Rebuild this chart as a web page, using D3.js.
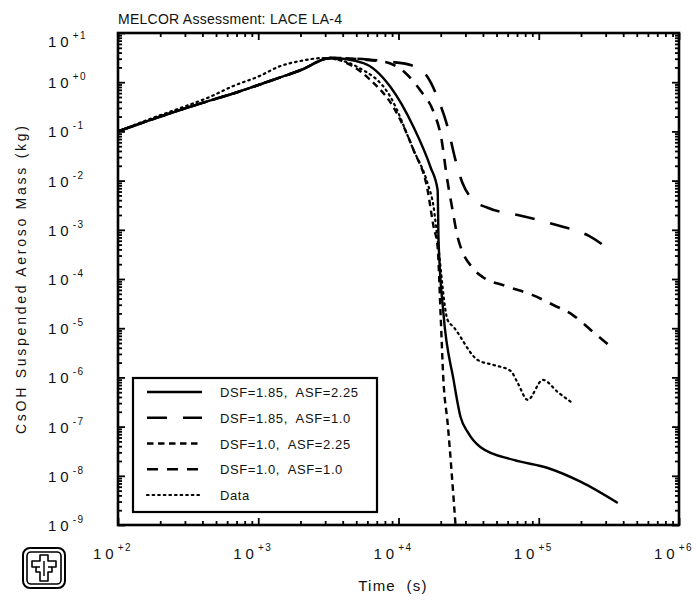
<!DOCTYPE html>
<html>
<head>
<meta charset="utf-8">
<script src="https://cdn.jsdelivr.net/npm/d3@7"></script>
<style>
  html, body { margin: 0; padding: 0; background: #fff; }
  text { font-family: "Liberation Sans", Arial, sans-serif; fill: #111; }
</style>
</head>
<body>
<svg id="chart" width="696" height="602"></svg>
<script>
// ---- text ----
const titleText = "MELCOR Assessment: LACE LA-4";
const xTitle = "Time (s)";
const yTitle = "CsOH Suspended Aeroso Mass (kg)";

// ---- axis decades and tick labels ----
const xDecades = [2, 3, 4, 5, 6];
const xTickLabels = ["+2", "+3", "+4", "+5", "+6"];
const yDecades = [1, 0, -1, -2, -3, -4, -5, -6, -7, -8, -9];
const yTickLabels = ["+1", "+0", "-1", "-2", "-3", "-4", "-5", "-6", "-7", "-8", "-9"];

// ---- series (time in s, mass in kg) ----
const seriesNames = ["DSF=1.85,  ASF=2.25", "DSF=1.85,  ASF=1.0", "DSF=1.0,  ASF=2.25", "DSF=1.0,  ASF=1.0", "Data"];

// common heat-up portion shared by all calculations
const riseTime = [100, 200, 400, 700, 1200, 2000, 3270];
const riseMass = [0.1, 0.2, 0.38, 0.62, 1.05, 1.75, 3.1];

const s1Time = [5620, 8770, 12800, 16900, 19000, 19300, 20900, 24700, 27700, 31100, 38500, 66200, 116000, 200000, 366000];
const s1Mass = [2.45, 0.8, 0.123, 0.0189, 0.0065, 6.2e-4, 2.04e-5, 8.9e-7, 1.57e-7, 7.8e-8, 3.8e-8, 2.1e-8, 1.44e-8, 7.5e-9, 2.8e-9];

const s2Time = [6000, 9060, 12200, 14400, 16100, 19300, 22400, 25500, 28600, 34300, 43200, 70800, 128000, 228000, 343000];
const s2Mass = [2.9, 2.57, 2.24, 1.77, 1.28, 0.43, 0.123, 0.026, 0.0089, 0.0040, 0.0028, 0.0020, 0.0013, 7.5e-4, 3.4e-4];

const s3Time = [4540, 6310, 9210, 12800, 16100, 17800, 19000, 19950, 20900, 22400, 25500];
const s3Mass = [2.24, 1.11, 0.31, 0.042, 0.0065, 0.00114, 4.5e-4, 2.0e-5, 8.9e-7, 1.18e-7, 1.0e-9];

const s4Time = [5500, 8070, 11200, 14600, 17800, 20300, 22000, 24300, 26400, 27700, 33800, 39800, 58100, 90600, 126000, 175000, 235000, 327000];
const s4Mass = [2.9, 2.57, 1.54, 0.63, 0.248, 0.067, 0.013, 0.0025, 7.1e-4, 4.5e-4, 1.67e-4, 1.1e-4, 7.2e-5, 4.7e-5, 3.0e-5, 1.85e-5, 9.2e-6, 4.2e-6];

const dataTime = [100, 170, 280, 450, 665, 1000, 1440, 2000, 2900, 3600, 5100, 8770, 12800, 16100, 17800, 19000, 22400, 24700, 36700, 47700, 63100, 70800, 83400, 107000, 137000, 169000];
const dataMass = [0.1, 0.18, 0.3, 0.5, 0.84, 1.3, 2.13, 2.7, 3.1, 2.9, 2.04, 0.5, 0.042, 0.0089, 0.0029, 6.2e-4, 1.47e-5, 1.06e-5, 2.26e-6, 1.79e-6, 1.35e-6, 7.7e-7, 3.5e-7, 8.9e-7, 5.0e-7, 3.2e-7];

// ---- layout ----
const svg = d3.select("#chart");
const plot = { left: 118, top: 33, right: 679, bottom: 525 };

const x = d3.scaleLog().domain([1e2, 1e6]).range([plot.left, plot.right]);
const y = d3.scaleLog().domain([1e-9, 1e1]).range([plot.bottom, plot.top]);

const join = (t, m) => riseTime.map((v, i) => [v, riseMass[i]]).concat(t.map((v, i) => [v, m[i]]));
const series = [
  { pts: join(s1Time, s1Mass), dash: null, width: 2.4 },
  { pts: join(s2Time, s2Mass), dash: "20,16", width: 2.6 },
  { pts: join(s3Time, s3Mass), dash: "6.5,4.5", width: 2.4 },
  { pts: join(s4Time, s4Mass), dash: "11,9", width: 2.6 },
  { pts: dataTime.map((v, i) => [v, dataMass[i]]), dash: "1.6,4", width: 2.2 }
];

// ---- ticks (inward on all four sides) ----
const majorX = xDecades.map(e => Math.pow(10, e));
const minorX = [];
for (let e = 2; e < 6; e++) for (let d = 2; d <= 9; d++) minorX.push(d * Math.pow(10, e));
const majorY = yDecades.map(e => Math.pow(10, e));
const minorY = [];
for (let e = -9; e < 1; e++) for (let d = 2; d <= 9; d++) minorY.push(d * Math.pow(10, e));

function tickGroup(axisFn, scale, values, size, transform) {
  const g = svg.append("g").attr("transform", transform)
    .call(axisFn(scale).tickValues(values).tickSize(-size).tickFormat(""));
  g.select(".domain").remove();
  g.selectAll(".tick line").attr("stroke", "#000").attr("stroke-width", 1.8);
  return g;
}
tickGroup(d3.axisBottom, x, majorX, 7, `translate(0,${plot.bottom})`);
tickGroup(d3.axisBottom, x, minorX, 4, `translate(0,${plot.bottom})`);
tickGroup(d3.axisTop, x, majorX, 7, `translate(0,${plot.top})`);
tickGroup(d3.axisTop, x, minorX, 4, `translate(0,${plot.top})`);
tickGroup(d3.axisLeft, y, majorY, 7, `translate(${plot.left},0)`);
tickGroup(d3.axisLeft, y, minorY, 4, `translate(${plot.left},0)`);
tickGroup(d3.axisRight, y, majorY, 7, `translate(${plot.right},0)`);
tickGroup(d3.axisRight, y, minorY, 4, `translate(${plot.right},0)`);

// ---- frame ----
svg.append("rect")
  .attr("x", plot.left).attr("y", plot.top)
  .attr("width", plot.right - plot.left).attr("height", plot.bottom - plot.top)
  .attr("fill", "none").attr("stroke", "#000").attr("stroke-width", 2.6);

// ---- curves ----
const line = d3.line()
  .x(d => x(d[0])).y(d => y(d[1]))
  .curve(d3.curveMonotoneX);

svg.append("defs").append("clipPath").attr("id", "clip")
  .append("rect").attr("x", plot.left).attr("y", plot.top)
  .attr("width", plot.right - plot.left).attr("height", plot.bottom - plot.top);

const curves = svg.append("g").attr("clip-path", "url(#clip)");
series.forEach((s, i) => {
  curves.append("path")
    .attr("d", line(s.pts))
    .attr("fill", "none")
    .attr("stroke", "#000")
    .attr("stroke-width", s.width)
    .attr("stroke-dasharray", s.dash)
    .attr("stroke-linecap", i === 4 ? "round" : "butt")
    .attr("stroke-linejoin", "round");
});

// ---- tick labels: 10 with signed exponent ----
xDecades.forEach((e, i) => {
  const t = svg.append("text")
    .attr("x", x(Math.pow(10, e)) - 25).attr("y", 559)
    .attr("font-size", 15);
  t.append("tspan").text("10").attr("letter-spacing", 4);
  t.append("tspan").text(xTickLabels[i]).attr("font-size", 10).attr("dy", -8).attr("letter-spacing", 1.5);
});
yDecades.forEach((e, i) => {
  const ty = y(Math.pow(10, e)) + (e === 1 ? 8 : 0);
  const t = svg.append("text")
    .attr("x", 48).attr("y", ty + 6)
    .attr("font-size", 15);
  t.append("tspan").text("10").attr("letter-spacing", 4);
  t.append("tspan").text(yTickLabels[i]).attr("font-size", 10).attr("dy", -8).attr("letter-spacing", 1.5);
});

// ---- titles ----
svg.append("text")
  .attr("x", 118).attr("y", 24)
  .attr("font-size", 14)
  .attr("textLength", 224).attr("lengthAdjust", "spacing")
  .text(titleText);

svg.append("text")
  .attr("x", 393).attr("y", 591)
  .attr("text-anchor", "middle")
  .attr("font-size", 15)
  .attr("letter-spacing", 1.2)
  .style("white-space", "pre")
  .text(xTitle.replace(" ", "  "));

svg.append("text")
  .attr("transform", "translate(26,280) rotate(-90)")
  .attr("text-anchor", "middle")
  .attr("font-size", 14)
  .attr("textLength", 308).attr("lengthAdjust", "spacing")
  .text(yTitle);

// ---- legend ----
const legend = { x: 133, y: 378, w: 244, h: 134 };
svg.append("rect")
  .attr("x", legend.x).attr("y", legend.y)
  .attr("width", legend.w).attr("height", legend.h)
  .attr("fill", "#fff").attr("stroke", "#000").attr("stroke-width", 2.2);

const rowY = d3.scalePoint().domain(seriesNames).range([392, 495]);
seriesNames.forEach((name, i) => {
  const s = series[i];
  const yy = rowY(name);
  svg.append("line")
    .attr("x1", 147).attr("x2", 202).attr("y1", yy).attr("y2", yy)
    .attr("stroke", "#000").attr("stroke-width", s.width)
    .attr("stroke-dasharray", s.dash)
    .attr("stroke-linecap", i === 4 ? "round" : "butt");
  svg.append("text")
    .attr("x", 220).attr("y", yy + 5)
    .attr("font-size", 13)
    .attr("letter-spacing", 0.6)
    .style("white-space", "pre")
    .text(name);
});

// ---- laboratory emblem, lower left ----
const logo = svg.append("g").attr("transform", "translate(23,548)")
  .attr("fill", "none").attr("stroke", "#000");
logo.append("rect").attr("x", 0).attr("y", 0).attr("width", 42).attr("height", 40)
  .attr("rx", 7).attr("stroke-width", 2);
logo.append("rect").attr("x", 4).attr("y", 4).attr("width", 34).attr("height", 32)
  .attr("rx", 4).attr("stroke-width", 1.6);
logo.append("path").attr("stroke-width", 1.6).attr("stroke-linejoin", "round")
  .attr("d", "M17,7 L25,7 L25,13 L33,13 L33,19 L29,19 L29,24 L25,24 L25,33 L17,33 L17,24 L13,24 L13,19 L9,19 L9,13 L17,13 Z");
logo.append("path").attr("stroke-width", 1.4)
  .attr("d", "M21,13 L21,28 M13,19 L17,19 M25,19 L29,19");
</script>
</body>
</html>
